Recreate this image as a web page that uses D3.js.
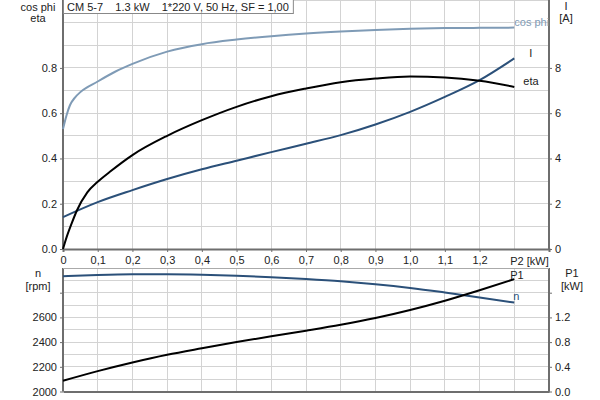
<!DOCTYPE html>
<html><head><meta charset="utf-8">
<script src="https://cdn.jsdelivr.net/npm/d3@7"></script>
<style>
body{margin:0;background:#fff;}
svg{display:block;font-family:"Liberation Sans",Arial,sans-serif;font-size:11px;}
</style></head><body>
<svg id="c" width="600" height="400"></svg>
<script>
// ---- data ----
const title = "CM 5-7    1.3 kW    1*220 V, 50 Hz, SF = 1,00";
const xTicks = [0,0.1,0.2,0.3,0.4,0.5,0.6,0.7,0.8,0.9,1.0,1.1,1.2];
const p2Cos = [0, 0.01, 0.02, 0.035, 0.05, 0.1, 0.15, 0.2, 0.3, 0.4, 0.5, 0.6, 0.7, 0.8, 0.9, 1.0, 1.1, 1.2, 1.3];
const cosPhi = [0.53, 0.59, 0.635, 0.67, 0.693, 0.74, 0.783, 0.818, 0.872, 0.905, 0.925, 0.94, 0.952, 0.961, 0.968, 0.973, 0.976, 0.977, 0.978];
const p2Eta = [0, 0.01, 0.025, 0.04, 0.07, 0.1, 0.135, 0.2, 0.3, 0.4, 0.5, 0.6, 0.7, 0.8, 0.9, 1.0, 1.1, 1.2, 1.3];
const eta =   [0.0, 0.05, 0.113, 0.17, 0.25, 0.297, 0.341, 0.415, 0.5, 0.569, 0.628, 0.675, 0.709, 0.737, 0.753, 0.762, 0.758, 0.743, 0.716];
const p2 = [0, 0.1, 0.2, 0.3, 0.4, 0.5, 0.6, 0.7, 0.8, 0.9, 1.0, 1.1, 1.2, 1.3];
const current = [1.41, 2.07, 2.6, 3.09, 3.52, 3.9, 4.28, 4.65, 5.03, 5.5, 6.06, 6.72, 7.46, 8.42];
const speed = [2933, 2943, 2949, 2950, 2946, 2938, 2926, 2911, 2893, 2869, 2839, 2802, 2762, 2720];
const p1 =    [0.174, 0.33, 0.47, 0.595, 0.70, 0.80, 0.895, 0.985, 1.08, 1.19, 1.32, 1.47, 1.64, 1.82];
const leftTicksTop = [0, 0.2, 0.4, 0.6, 0.8];
const rightTicksTop = [0, 2, 4, 6, 8];
const leftTicksBot = [2000, 2200, 2400, 2600, 2800];
const rightTicksBot = [0, 0.4, 0.8, 1.2, 1.6];

const svg = d3.select("#c");
const X0 = 63, X1 = 549;
const x = d3.scaleLinear().domain([0,1.4]).range([X0,X1]);
const yT = d3.scaleLinear().domain([0,1.1]).range([249,0]);
const yI = d3.scaleLinear().domain([0,11]).range([249,0]);
const yN = d3.scaleLinear().domain([2000,3000]).range([391.5,268]);
const yP = d3.scaleLinear().domain([0,2]).range([391.5,268]);

const grid = "#d3d3d3", axisC = "#6e6e6e", txt = "#222";
const cosC = "#7f9bb6", blueC = "#2b5079";

// ---- grids ----
const gx = d3.range(0, 1.401, 0.1);
function vgrid(y0, y1){
  svg.append("g").selectAll("line").data(gx).join("line")
    .attr("x1", d=>x(d)).attr("x2", d=>x(d)).attr("y1", y0).attr("y2", y1)
    .attr("stroke", grid).attr("stroke-width",1).attr("shape-rendering","crispEdges");
}
vgrid(0, 249); vgrid(268, 391.5);
svg.append("g").selectAll("line").data(d3.range(0,1.11,0.1)).join("line")
  .attr("x1", X0).attr("x2", X1).attr("y1", d=>yT(d)).attr("y2", d=>yT(d))
  .attr("stroke", grid).attr("shape-rendering","crispEdges");
svg.append("g").selectAll("line").data(d3.range(2000,3001,100)).join("line")
  .attr("x1", X0).attr("x2", X1).attr("y1", d=>yN(d)).attr("y2", d=>yN(d))
  .attr("stroke", grid).attr("shape-rendering","crispEdges");

// ---- axes ----
const fmtX = d => d===0 ? "0" : d3.format(".1f")(d).replace(".", ",");
const axB = svg.append("g").attr("transform","translate(0,249)")
  .call(d3.axisBottom(x).tickValues(xTicks).tickSize(3).tickPadding(4).tickFormat(fmtX));
svg.append("text").attr("x", x(1.3)-4).attr("y", 264.5).attr("fill", txt).text("P2 [kW]");

const axLT = svg.append("g").attr("transform",`translate(${X0},0)`)
  .call(d3.axisLeft(yT).tickValues(leftTicksTop).tickSize(3).tickFormat(d3.format(".1f")));
const axRT = svg.append("g").attr("transform",`translate(${X1},0)`)
  .call(d3.axisRight(yI).tickValues(rightTicksTop).tickSize(3).tickFormat(d3.format("d")));
const axLB = svg.append("g").attr("transform",`translate(${X0},0)`)
  .call(d3.axisLeft(yN).tickValues(leftTicksBot).tickSize(3).tickFormat(d => d===2800 ? "" : d));
const axRB = svg.append("g").attr("transform",`translate(${X1},0)`)
  .call(d3.axisRight(yP).tickValues(rightTicksBot).tickSize(3).tickFormat(d => d===1.6 ? "" : d3.format(".1f")(d)));
const axBB = svg.append("g").attr("transform","translate(0,391.5)")
  .call(d3.axisBottom(x).tickValues([]).tickSize(0));

[axB, axLT, axRT, axLB, axRB, axBB].forEach(g => {
  g.select(".domain").attr("stroke", axisC).attr("stroke-width", 2);
  g.selectAll(".tick line").attr("stroke", axisC);
  g.selectAll(".tick text").attr("fill", txt).style("font-size","11px").style("font-family","'Liberation Sans',Arial,sans-serif");
});
axLT.select(".domain").attr("d", `M0,249V0`);
axRT.select(".domain").attr("d", `M0,249V0`);
axLB.select(".domain").attr("d", `M0,391.5V268`);
axRB.select(".domain").attr("d", `M0,391.5V268`);
svg.append("line").attr("x1",X0).attr("x2",X1).attr("y1",268.5).attr("y2",268.5).attr("stroke","#aaa");

// ---- axis titles ----
function lbl(xp, yp, t, anchor="middle", col=txt){
  svg.append("text").attr("x",xp).attr("y",yp).attr("text-anchor",anchor).attr("fill",col).text(t);
}
lbl(38, 11, "cos phi"); lbl(38, 22, "eta");
lbl(566, 10, "I"); lbl(566, 22, "[A]");
lbl(38, 277, "n"); lbl(38, 290, "[rpm]");
lbl(572, 277, "P1"); lbl(572, 290, "[kW]");

// ---- curves ----
function curve(xs, ys, ysc, col){
  const pts = xs.map((d,i)=>[x(d), ysc(ys[i])]);
  svg.append("path").attr("d", d3.line().curve(d3.curveMonotoneX)(pts))
    .attr("fill","none").attr("stroke",col).attr("stroke-width",2);
}
curve(p2Cos, cosPhi, yT, cosC);
curve(p2, current, yI, blueC);
curve(p2Eta, eta, yT, "#000");
curve(p2, speed, yN, blueC);
curve(p2, p1, yP, "#000");

lbl(x(1.3), 26, "cos phi", "start", cosC);
lbl(x(1.3)+15, 57, "I", "start", "#222");
lbl(x(1.3)+9, 85, "eta", "start", txt);
lbl(x(1.3)-4, 278.5, "P1", "start", txt);
lbl(x(1.3)-1, 300, "n", "start", blueC);

// ---- title box ----
const tg = svg.append("g");
const tt = tg.append("text").attr("x", X0+4).attr("y", 10.5).attr("fill", txt).style("white-space","pre").text(title);
const bw = tt.node().getComputedTextLength();
tg.insert("rect","text").attr("x", X0+0.5).attr("y", -1).attr("width", bw+8).attr("height", 14.5)
  .attr("fill","#fff").attr("stroke","#888");
</script>
</body></html>
